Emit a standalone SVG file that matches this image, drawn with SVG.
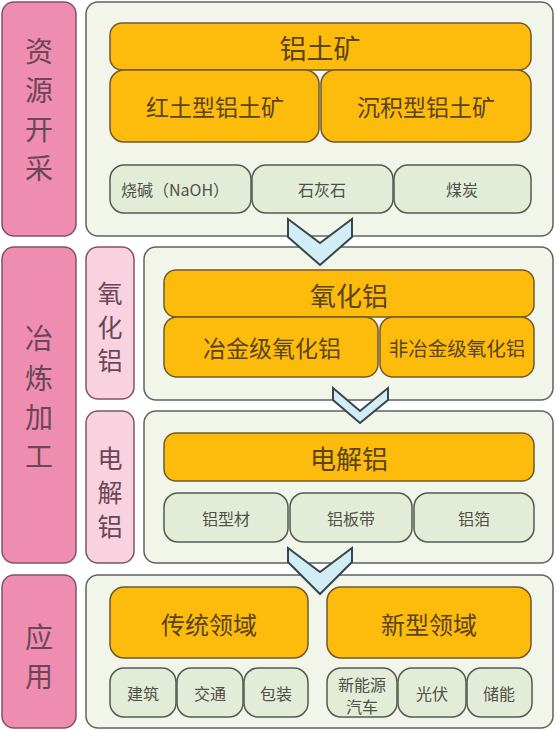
<svg xmlns="http://www.w3.org/2000/svg" width="556" height="730" viewBox="0 0 556 730">
<style>
text{font-family:"Noto Sans CJK SC","Noto Sans",sans-serif;text-anchor:middle;dominant-baseline:central}
.stage{fill:#ef8db1;stroke:#7d5566;stroke-width:1.5}
.sub{fill:#f9d2e0;stroke:#7d5566;stroke-width:1.5}
.panel{fill:#f1f5ea;stroke:#5f6360;stroke-width:1.5}
.main{fill:#fdbb0c;stroke:#6f5a2c;stroke-width:1.5}
.item{fill:#e3ecd6;stroke:#555a52;stroke-width:1.5}
.chev{fill:#d3edf6;stroke:#37464d;stroke-width:2;stroke-linejoin:miter}
.lt{fill:#6b4656;font-size:28px}
.st{fill:#6b4656;font-size:25px}
.mt{fill:#5a4418}
.it{fill:#4f5049;font-size:16px}
</style>
<g id="stage-resource">
<rect class="stage" x="2" y="2" width="74" height="234" rx="12"/>
<text class="lt"><tspan x="39" y="50">资</tspan><tspan x="39" y="89">源</tspan><tspan x="39" y="128">开</tspan><tspan x="39" y="167">采</tspan></text>
</g>
<g id="stage-smelting">
<rect class="stage" x="2" y="247" width="74" height="316" rx="12"/>
<text class="lt"><tspan x="39" y="337">冶</tspan><tspan x="39" y="377">炼</tspan><tspan x="39" y="416">加</tspan><tspan x="39" y="455">工</tspan></text>
</g>
<g id="stage-application">
<rect class="stage" x="2" y="575" width="74" height="153" rx="12"/>
<text class="lt"><tspan x="39" y="636">应</tspan><tspan x="39" y="675">用</tspan></text>
</g>
<g id="sub-alumina">
<rect class="sub" x="86" y="247" width="48" height="152" rx="12"/>
<text class="st"><tspan x="110" y="292">氧</tspan><tspan x="110" y="326">化</tspan><tspan x="110" y="359">铝</tspan></text>
</g>
<g id="sub-electrolytic">
<rect class="sub" x="86" y="411" width="48" height="152" rx="12"/>
<text class="st"><tspan x="110" y="457">电</tspan><tspan x="110" y="491">解</tspan><tspan x="110" y="525">铝</tspan></text>
</g>
<g id="panel-resource">
<rect class="panel" x="86" y="2" width="467" height="234" rx="12"/>
</g>
<g id="panel-alumina">
<rect class="panel" x="144" y="247" width="409" height="153" rx="12"/>
</g>
<g id="panel-electrolytic">
<rect class="panel" x="144" y="411" width="409" height="152" rx="12"/>
</g>
<g id="panel-application">
<rect class="panel" x="86" y="575" width="467" height="153" rx="12"/>
</g>
<g id="bauxite">
<rect class="main" x="110" y="23" width="421" height="47" rx="12"/>
<text class="mt" x="320" y="47" font-size="27">铝土矿</text>
</g>
<g id="laterite-bauxite">
<rect class="main" x="110" y="70" width="209" height="72" rx="14"/>
<text class="mt" x="215" y="106" font-size="23">红土型铝土矿</text>
</g>
<g id="sedimentary-bauxite">
<rect class="main" x="321" y="70" width="210" height="72" rx="14"/>
<text class="mt" x="426" y="106" font-size="23">沉积型铝土矿</text>
</g>
<g id="caustic-soda">
<rect class="item" x="110" y="165" width="141" height="48" rx="14"/>
<text class="it" x="175" y="189">烧碱（NaOH）</text>
</g>
<g id="limestone">
<rect class="item" x="252" y="165" width="141" height="48" rx="14"/>
<text class="it" x="322" y="189">石灰石</text>
</g>
<g id="coal">
<rect class="item" x="394" y="165" width="137" height="48" rx="14"/>
<text class="it" x="462" y="189">煤炭</text>
</g>
<g id="alumina">
<rect class="main" x="164" y="270" width="370" height="47" rx="12"/>
<text class="mt" x="349" y="294" font-size="26">氧化铝</text>
</g>
<g id="metallurgical-alumina">
<rect class="main" x="164" y="317" width="214" height="60" rx="13"/>
<text class="mt" x="272" y="347" font-size="23">冶金级氧化铝</text>
</g>
<g id="non-metallurgical-alumina">
<rect class="main" x="380" y="317" width="154" height="60" rx="13"/>
<text class="mt" x="457" y="347" font-size="19.5">非冶金级氧化铝</text>
</g>
<g id="electrolytic-aluminum">
<rect class="main" x="164" y="433" width="370" height="48" rx="12"/>
<text class="mt" x="349" y="457" font-size="26">电解铝</text>
</g>
<g id="profile">
<rect class="item" x="164" y="493" width="124" height="49" rx="14"/>
<text class="it" x="226" y="518">铝型材</text>
</g>
<g id="sheet-strip">
<rect class="item" x="290" y="493" width="122" height="49" rx="14"/>
<text class="it" x="351" y="518">铝板带</text>
</g>
<g id="foil">
<rect class="item" x="414" y="493" width="120" height="49" rx="14"/>
<text class="it" x="474" y="518">铝箔</text>
</g>
<g id="traditional">
<rect class="main" x="110" y="587" width="198" height="71" rx="14"/>
<text class="mt" x="209" y="623" font-size="24">传统领域</text>
</g>
<g id="emerging">
<rect class="main" x="327" y="587" width="204" height="71" rx="14"/>
<text class="mt" x="429" y="623" font-size="24">新型领域</text>
</g>
<g id="construction">
<rect class="item" x="110" y="668" width="66" height="49" rx="14"/>
<text class="it" x="143" y="693">建筑</text>
</g>
<g id="transport">
<rect class="item" x="177" y="668" width="66" height="49" rx="14"/>
<text class="it" x="210" y="693">交通</text>
</g>
<g id="packaging">
<rect class="item" x="244" y="668" width="64" height="49" rx="14"/>
<text class="it" x="276" y="693">包装</text>
</g>
<g id="nev">
<rect class="item" x="327" y="668" width="70" height="49" rx="14"/>
<text class="it" font-size="15.5"><tspan x="362" y="684">新能源</tspan><tspan x="362" y="706">汽车</tspan></text>
</g>
<g id="pv">
<rect class="item" x="398" y="668" width="68" height="49" rx="14"/>
<text class="it" x="432" y="693">光伏</text>
</g>
<g id="storage">
<rect class="item" x="467" y="668" width="65" height="49" rx="14"/>
<text class="it" x="499" y="693">储能</text>
</g>
<g id="connectors">
<polygon class="chev" points="288,219 320,243 352,219 352,237 320,265 288,237"/>
<polygon class="chev" points="333,388 360,411 388,388 388,400 360,423 333,400"/>
<polygon class="chev" points="288,548 320,572 352,548 352,562 320,594 288,562"/>
</g>
</svg>
